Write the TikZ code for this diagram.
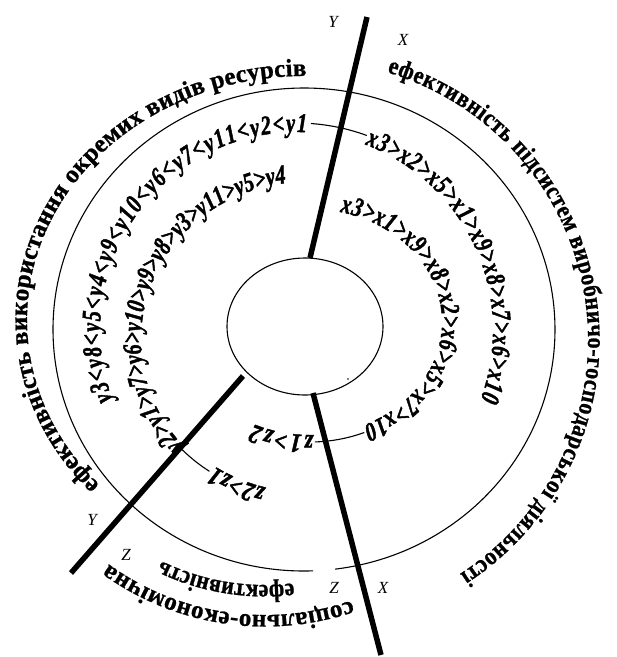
\documentclass[tikz,border=0pt]{standalone}
\usepackage{fontspec}
\setmainfont{Liberation Serif}
\newfontfamily\formfam{Liberation Serif}[FakeStretch=0.74,FakeBold=1.6]
\newfontfamily\zfam{Liberation Serif}[FakeStretch=0.82,FakeBold=1.6]
\newfontfamily\widefam{Liberation Serif}[FakeBold=0.9]
\newfontfamily\condfam{Liberation Serif}[FakeStretch=0.88,FakeBold=0.9]
\usetikzlibrary{decorations.text}
\newcommand{\outerfont}{\fontsize{25}{25}\selectfont\widefam\bfseries}
\newcommand{\outercond}{\fontsize{25}{25}\selectfont\condfam\bfseries}
\newcommand{\formfont}{\fontsize{27}{27}\selectfont\formfam\bfseries\itshape}
\newcommand{\zfont}{\fontsize{27}{27}\selectfont\zfam\bfseries\itshape}
\tikzset{
  ring/.style={line width=1.1pt},
  axisline/.style={line width=5.5pt},
  axislabel/.style={font=\fontsize{17}{17}\selectfont\itshape, inner sep=0pt},
  curvetext/.style={decorate, decoration={text along path, text align=fit to path, text={#1}}},
  joiner/.style={line width=1.1pt},
}
\begin{document}
\begin{tikzpicture}[x=1pt,y=-1pt]
\useasboundingbox (0,0) rectangle (617,657);
% rings
\draw[ring] (304,329.5) ++(87.9:251 and 241.5) arc[start angle=87.9,end angle=442.9,x radius=251,y radius=241.5];
\draw[ring] (305,326.5) ellipse [x radius=78, y radius=68.5];
\fill (348,379) circle [radius=0.8];
% axes
\coordinate (a1) at (367,17);   \coordinate (b1) at (310,258);
\coordinate (a2) at (243,376);  \coordinate (b2) at (71,573);
\coordinate (a3) at (313,393);  \coordinate (b3) at (381,655);
\draw[axisline] (a1) -- (b1);
\draw[axisline] (a2) -- (b2);
\draw[axisline] (a3) -- (b3);
% axis labels
\node[axislabel] (ly1) at (333,22) {Y};
\node[axislabel] (lx1) at (403,40) {X};
\node[axislabel] (ly2) at (92,520) {Y};
\node[axislabel] (lz2) at (126,555) {Z};
\node[axislabel] (lz3) at (334,588) {Z};
\node[axislabel] (lx3) at (383,588) {X};
% outer curved titles
\path[curvetext={|\outerfont|ефективність використання окремих видів ресурсів}]
  (304,320) ++(137.5:277 and 244) arc[start angle=137.5,end angle=270.5,x radius=277,y radius=244];
\path[curvetext={|\outercond|ефективність підсистем виробничо-господарської діяльності}]
  (304,340) ++(287:284 and 280) arc[start angle=287,end angle=416.7,x radius=284,y radius=280];
\path[curvetext={|\outerfont|соціально-економічна}]
  (265,349) ++(71:266) arc[start angle=71,end angle=126,radius=266];
\path[curvetext={|\outercond|ефективність}]
  (265,349) ++(83:236) arc[start angle=83,end angle=116,radius=236];
% outer formula ring
\path[curvetext={|\formfont|y3<y8<y5<y4<y9<y10<y6<y7<y11<y2<y1}]
  (296.5,330) ++(159.3:196.5 and 198) arc[start angle=159.3,end angle=273,x radius=196.5,y radius=198];
\draw[joiner] (296.5,330) ++(274:205.5 and 207) arc[start angle=274,end angle=290,x radius=205.5,y radius=207];
\path[curvetext={|\formfont|x3>x2>x5>x1>x9>x8>x7>x6>x10}]
  (296.5,330) ++(290.4:196.5 and 198) arc[start angle=290.4,end angle=380.7,x radius=196.5,y radius=198];
% inner formula ring (y)
\path[curvetext={|\zfont|z2>z1}]
  (305,337) ++(104:164 and 155) arc[start angle=104,end angle=123.5,x radius=164,y radius=155];
\draw[joiner] (305,337) ++(124:171 and 162) arc[start angle=124,end angle=137.5,x radius=171,y radius=162];
\path[curvetext={|\formfont|y2>y1>y7>y6>y10>y9>y8>y3>y11>y5>y4}]
  (305,340) ++(138:164 and 158) arc[start angle=138,end angle=263.5,x radius=164,y radius=158];
% inner formula ring (x)
\path[curvetext={|\formfont|x3>x1>x9>x8>x2>x6>x5>x7>x10}]
  (310,322) ++(283.1:132 and 113) arc[start angle=283.1,end angle=426.3,x radius=132,y radius=113];
\draw[joiner] (310,322) ++(427:139 and 120) arc[start angle=427,end angle=448,x radius=139,y radius=120];
\path[curvetext={|\zfont|z1>z2}]
  (310,322) ++(448.7:132 and 113) arc[start angle=448.7,end angle=475.5,x radius=132,y radius=113];
\end{tikzpicture}
\end{document}
